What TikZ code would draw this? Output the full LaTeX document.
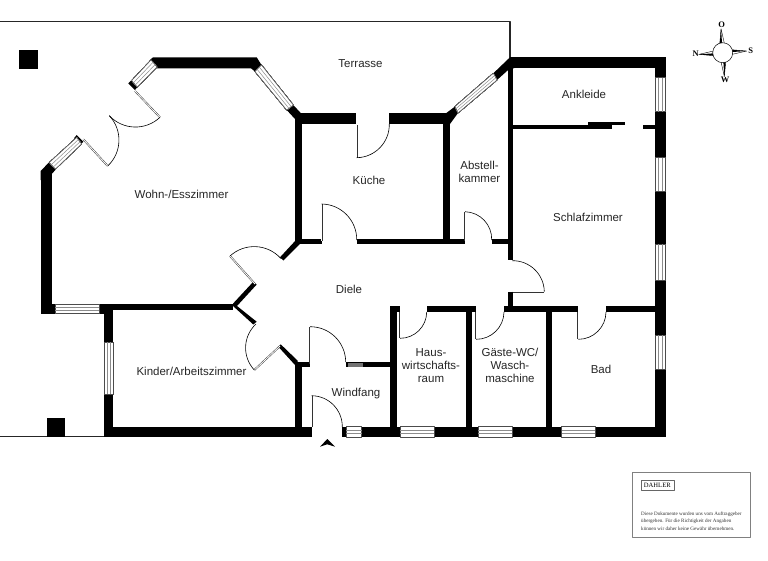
\documentclass[tikz,border=0pt]{standalone}
\usepackage{fontspec}
\setmainfont{Liberation Sans}
\newfontfamily\legendfont{Liberation Serif}
\usetikzlibrary{calc}
\tikzset{
	wall/.style={fill=black},
	outline/.style={draw=black!85, line width=1.1pt},
	pane/.style={draw=black!70, line width=.5pt, fill=white},
	paneline/.style={draw=black!45, line width=.5pt},
	leaf/.style={draw=black!80, line width=.45pt, double=white, double distance=.8pt},
	swing/.style={draw=black, line width=.6pt},
	room/.style={align=center, font=\fontsize{11.5}{13}\selectfont, text=black!85, inner sep=0pt},
	legend/.style={anchor=west, inner sep=0pt, font=\legendfont\fontsize{5.1}{7}\selectfont, text=black!80}
}
\newcommand{\windowpane}[4]{
	\draw[pane] (#1)--(#2)--(#3)--(#4)--cycle;
	\draw[paneline] ($(#1)!.33!(#4)$)--($(#2)!.33!(#3)$);
	\draw[paneline] ($(#1)!.67!(#4)$)--($(#2)!.67!(#3)$);
}
\begin{document}
\begin{tikzpicture}[x=1pt, y=-1pt, line join=round]
	\useasboundingbox (0,0) rectangle (768,560);
	\fill[white] (0,0) rectangle (768,560);
	\draw[outline] (0,21.8)--(510,21.8)--(510,60);
	\draw[outline] (0,436.5)--(105,436.5);

	\foreach \xa/\ya/\xb/\yb in {19/50/37.7/68.7, 46.7/417.7/65/436.7,
		40.7/172/51.7/314, 40.7/304/55/314, 99.3/304/113.3/314, 99.3/303.5/233/310,
		104/304/113/342.3, 104/394/113/427, 104/426.7/311.7/437,
		300/113.3/356/124, 389.3/113.3/450/124, 295/118/301.7/244, 443.3/113.3/450/244,
		295/238.7/321.7/244.3, 356.7/238.7/465/244.3, 491.7/238.7/512/244.3,
		508.3/60/512.5/260, 508.3/291.7/512.5/311, 504/306/578/311.7, 606/306/665.7/311.7,
		510/57.3/665.7/68.3, 655/57.3/665.7/436.7,
		512/125/612/129, 588/122.3/625/125.2, 642.7/124.7/655/129,
		390/306/400/311.7, 390/306/396.7/437, 426.7/306/476/311.7, 466/306/471.7/437,
		545.7/306/552.3/437, 295/362.4/310/366.8, 345.7/362.4/390/366.8, 295/362.4/301.7/437,
		341.7/426.7/665.7/436.9}
	\fill[wall] (\xa,\ya) rectangle (\xb,\yb);

	\fill[wall] (40.7,171)--(49.3,162)--(56,169.3)--(51.7,174)--(51.7,180)--(40.7,180)--cycle;
	\fill[wall] (74,138.3)--(76.7,135)--(83.3,141.7)--(81,144.3)--cycle;
	\fill[wall] (128.3,83.3)--(131.7,80)--(138.3,86)--(135,90)--cycle;
	\fill[wall] (150,60)--(153,57.3)--(256.7,57.3)--(261.5,65)--(255,71.5)--(251,68.3)--(157,68.3)--cycle;
	\fill[wall] (286.7,110)--(293.3,105)--(301,113.3)--(301.7,124)--(295,124)--(295,119)--cycle;
	\fill[wall] (445,114)--(455,106.5)--(458,113)--(450,124)--(445,124)--cycle;
	\fill[wall] (493.3,73.3)--(510,57.3)--(514,57.3)--(514,68.3)--(510,68.3)--(497,80)--cycle;
	\fill[wall] (233,303.6)--(253.3,281.7)--(256.7,284.5)--(237,306)--(256.7,321.7)--(253.3,324.5)--(233,306)--cycle;
	\fill[wall] (280,257.3)--(296,240)--(301,243)--(283.3,260.5)--cycle;
	\fill[wall] (278.3,346.7)--(280.7,344.3)--(298,361)--(295,365)--cycle;

	\foreach \xa/\xb in {346/361.7, 400/434.3, 478/512, 561.7/595}
	\windowpane{\xa,426.7}{\xb,426.7}{\xb,436.9}{\xa,436.9}
	\foreach \ya/\yb in {77.7/111.7, 157.7/191, 244.3/280, 335/369.3}
	\windowpane{655.3,\ya}{655.3,\yb}{665.7,\yb}{665.7,\ya}
	\windowpane{55,304}{99.3,304}{99.3,313.5}{55,313.5}
	\windowpane{104,342.3}{104,394}{112.8,394}{112.8,342.3}
	\windowpane{49.3,162.5}{76.7,137.5}{81.5,144}{55.5,169}
	\windowpane{131.7,80.5}{151,60}{157,67}{137.3,87}
	\windowpane{261.5,65}{293.3,105}{286.7,110}{255,71.5}
	\windowpane{455,106.5}{493.3,73.3}{497,80}{458,113}
	\fill[black!55] (348.3,362.8) rectangle (363.3,366.6);

	\draw[leaf] (135,91)--(160,117.3);
	\draw[leaf] (83.3,139.3)--(107.7,166);
	\draw[leaf] (356.7,125)--(356.7,157.7);
	\draw[leaf] (321.7,241)--(321.7,204);
	\draw[leaf] (465,241)--(465,211.7);
	\draw[leaf] (512.5,291.7)--(544.3,291.7);
	\draw[leaf] (400,312)--(400,338.3);
	\draw[leaf] (476,312)--(476,339.3);
	\draw[leaf] (578.3,312)--(578.3,339.3);
	\draw[leaf] (310,364)--(310,326.7);
	\draw[leaf] (311.7,427)--(311.7,395.7);
	\draw[leaf] (255,284)--(230,256);
	\draw[leaf] (280,346)--(254.3,370);

	\foreach \xa/\ya/\xb/\yb in {109.3/115.7/160/117.3, 107.7/166/109.3/115.7,
		356.7/157.7/389.3/124, 356.7/240/321.7/204, 491.7/240/465/211.7,
		544.3/291.7/512.3/260.7, 400/338.3/426.7/312, 476/339.3/504/312,
		578.3/339.3/606/312, 345.7/362/310/326.7, 342.3/427/311.7/395.7,
		280.7/258.3/230/256, 256/324/254.3/370}
	\draw[swing] (\xa,\ya) to[bend right=45] (\xb,\yb);

	\fill[black] (320,446.7)--(327.3,439)--(335,446.7)--(327.3,444.3)--cycle;

	\node[room] (terrasse) at (360.5,63.5) {Terrasse};
	\node[room] (wohnen) at (181.5,194.5) {Wohn-/Esszimmer};
	\node[room] (kueche) at (369,180) {Küche};
	\node[room] (abstell) at (479.5,171.7) {Abstell-\\kammer};
	\node[room] (ankleide) at (584,94) {Ankleide};
	\node[room] (schlafen) at (588,217) {Schlafzimmer};
	\node[room] (diele) at (349,289) {Diele};
	\node[room] (kinder) at (191.5,371.5) {Kinder/Arbeitszimmer};
	\node[room] (windfang) at (356,393.5) {Windfang};
	\node[room] (hausraum) at (431,365.5) {Haus-\\wirtschafts-\\raum};
	\node[room] (gaeste) at (510,365.5) {Gäste-WC/\\Wasch-\\maschine};
	\node[room] (bad) at (601,369.5) {Bad};

	\coordinate (rose) at (722.7,52.7);
	\foreach \ang in {-4,86,176,-94} {
		\draw[fill=white, line width=.4pt] ($(rose)+(\ang+14:9.5)$)--($(rose)+(\ang:24)$)--($(rose)+(\ang-14:9.5)$)--cycle;
		\fill[black] ($(rose)+(\ang:9.5)$)--($(rose)+(\ang:24)$)--($(rose)+(\ang-14:9.5)$)--cycle;
	}
	\draw[fill=white, line width=.5pt] (rose) circle (10);
	\foreach \nam/\xa/\ya/\lab in {north/721.7/25/O, east/750.7/50.7/S, west/695.7/54/N, south/725/79.3/W}
	\node[inner sep=0pt, font=\legendfont\bfseries\fontsize{8.5}{9}\selectfont] (\nam) at (\xa,\ya) {\lab};

	\draw[black!50, line width=.6pt] (632.3,472.3) rectangle (750.7,537.7);
	\node[draw=black!60, line width=.5pt, minimum width=33pt, minimum height=9.5pt, inner sep=0pt, font=\legendfont\fontsize{6.6}{7}\selectfont] (dahler) at (657.3,485.4) {DAHLER};
	\node[legend] (zeile1) at (641,514.5) {Diese Dokumente wurden uns vom Auftraggeber};
	\node[legend] (zeile2) at (641,521.5) {übergeben. Für die Richtigkeit der Angaben};
	\node[legend] (zeile3) at (641,528.5) {können wir daher keine Gewähr übernehmen.};
\end{tikzpicture}
\end{document}
